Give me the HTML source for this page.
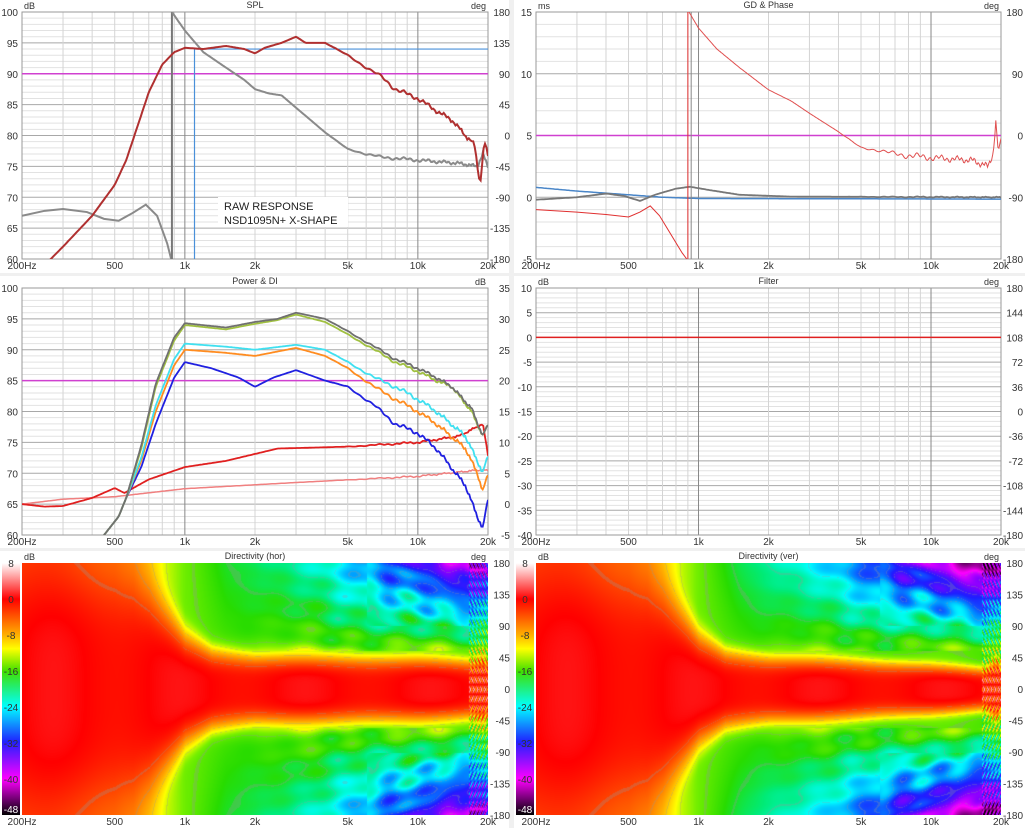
<!DOCTYPE html>
<html><head><meta charset="utf-8"><style>
body{margin:0;background:#f0f0f0;width:1025px;height:828px;overflow:hidden;position:relative;font-family:"Liberation Sans",sans-serif}
svg{position:absolute;left:0;top:0}
canvas{position:absolute;z-index:5}
</style></head><body>
<svg id="s" width="1025" height="828" xmlns="http://www.w3.org/2000/svg"></svg>
<canvas id="c1" width="466" height="252" style="left:22px;top:563px"></canvas>
<canvas id="c2" width="465" height="252" style="left:536px;top:563px"></canvas>
<script>
const S=document.getElementById('s');let h='';
const L={x:22,w:466},R={x:536,w:465};
const rows=[{y:12,h:247},{y:288,h:247},{y:563,h:252}];
function fx(p,f){return p.x+p.w*Math.log10(f/200)/2;}
h+='<rect x="0" y="0" width="509" height="273" fill="#fff"/><rect x="514" y="0" width="511" height="273" fill="#fff"/>';
h+='<rect x="0" y="276" width="509" height="272" fill="#fff"/><rect x="514" y="276" width="511" height="272" fill="#fff"/>';
h+='<rect x="0" y="551" width="509" height="277" fill="#fff"/><rect x="514" y="551" width="511" height="277" fill="#fff"/>';
function grid(p,r,ymin,ymax,minor,major,llab,rlab,lu,ru,title){
 const Y=v=>r.y+r.h*(ymax-v)/(ymax-ymin);
 for(let v=ymin;v<=ymax+1e-9;v+=minor){const mj=Math.abs((v-ymin)/major-Math.round((v-ymin)/major))<1e-6;
  h+=`<line x1="${p.x}" x2="${p.x+p.w}" y1="${Y(v)}" y2="${Y(v)}" stroke="${mj?'#a8a8a8':'#e2e2e2'}" stroke-width="1"/>`;}
 for(const f of [300,400,500,600,700,800,900,1000,2000,3000,4000,5000,6000,7000,8000,9000,10000]){
  const mj=(f==1000||f==10000);const x=fx(p,f);
  h+=`<line x1="${x}" x2="${x}" y1="${r.y}" y2="${r.y+r.h}" stroke="${mj?'#888':'#d4d4d4'}" stroke-width="1"/>`;}
 h+=`<rect x="${p.x}" y="${r.y}" width="${p.w}" height="${r.h}" fill="none" stroke="#999"/>`;
 txtLabels(p,r,llab,rlab,lu,ru,title);
 return Y;
}
function txtLabels(p,r,llab,rlab,lu,ru,title){
 llab.forEach((t,i)=>{const y=r.y+r.h*i/(llab.length-1);h+=`<text x="${p.x-4}" y="${y+4}" font-size="10" text-anchor="end" fill="#333">${t}</text>`;});
 rlab.forEach((t,i)=>{const y=r.y+r.h*i/(rlab.length-1);h+=`<text x="${p.x+p.w+22}" y="${y+4}" font-size="10" text-anchor="end" fill="#333">${t}</text>`;});
 [[200,'200Hz'],[500,'500'],[1000,'1k'],[2000,'2k'],[5000,'5k'],[10000,'10k'],[20000,'20k']].forEach(([f,t])=>{
  h+=`<text x="${fx(p,f)}" y="${r.y+r.h+10}" font-size="10" text-anchor="middle" fill="#333">${t}</text>`;});
 h+=`<text x="${p.x+2}" y="${r.y-3}" font-size="9" fill="#333">${lu}</text>`;
 h+=`<text x="${p.x+p.w-2}" y="${r.y-3}" font-size="9" text-anchor="end" fill="#333">${ru}</text>`;
 h+=`<text x="${p.x+p.w/2}" y="${r.y-4}" font-size="9" text-anchor="middle" fill="#333">${title}</text>`;
}
function interp(pts,f){const lf=Math.log(f);for(let i=0;i<pts.length-1;i++){const a=Math.log(pts[i][0]),b=Math.log(pts[i+1][0]);if(lf>=a&&lf<=b){const t=(lf-a)/(b-a);return pts[i][1]+(pts[i+1][1]-pts[i][1])*t;}}return pts[lf<Math.log(pts[0][0])?0:pts.length-1][1];}
function curve(p,r,Y,pts,col,w,clip,wg){
 wg=wg||0;let d='';const f0=pts[0][0],f1=pts[pts.length-1][0];
 for(let i=0;i<=300;i++){const f=f0*Math.pow(f1/f0,i/300);let v=interp(pts,f);
  const wig=(f>4000?wg*(Math.sin(f/97)*0.5+Math.sin(f/331)*0.5)*Math.min(1,(f-4000)/4000):0);
  d+=(i?'L':'M')+fx(p,f).toFixed(1)+','+Y(v+wig).toFixed(1);}
 h+=`<path d="${d}" fill="none" stroke="${col}" stroke-width="${w}" clip-path="url(#${clip})"/>`;
}
function poly(p,Y,pts,col,w,clip){h+=`<path d="${pts.map((q,i)=>(i?'L':'M')+fx(p,q[0])+','+Y(q[1])).join('')}" fill="none" stroke="${col}" stroke-width="${w}" clip-path="url(#${clip})"/>`;}
h+='<defs>';[[L,0,'a'],[R,0,'b'],[L,1,'c'],[R,1,'d']].forEach(([p,i,n])=>{h+=`<clipPath id="${n}"><rect x="${p.x}" y="${rows[i].y}" width="${p.w}" height="${rows[i].h}"/></clipPath>`;});h+='</defs>';
// SPL
let Y=grid(L,rows[0],60,100,1,5,['100','95','90','85','80','75','70','65','60'],['180','135','90','45','0','-45','-90','-135','-180'],'dB','deg','SPL');
h+=`<line x1="22" x2="488" y1="${Y(90)}" y2="${Y(90)}" stroke="#d040d0" stroke-width="1.5"/>`;
h+=`<polyline points="${fx(L,1100)},259 ${fx(L,1100)},${Y(94)} 488,${Y(94)}" fill="none" stroke="#4a90d9" stroke-width="1.2"/>`;
poly(L,Y,[[200,67],[250,67.8],[300,68.1],[380,67.6],[450,66.5],[520,66.2],[600,67.5],[680,68.8],[760,67],[840,62.5],[880,59.5]],'#8a8a8a',2,'a');
h+=`<line x1="${fx(L,880)}" x2="${fx(L,880)}" y1="12" y2="259" stroke="#777" stroke-width="2"/>`;
curve(L,rows[0],Y,[[880,100],[1000,97],[1200,93.5],[1500,91],[1800,89],[2000,87.5],[2300,86.8],[2600,86.5],[3000,84.5],[4000,80.5],[5000,77.8],[6000,77],[7000,76.5],[10000,76],[15000,75.5],[18000,75],[19000,77],[20000,75]],'#8a8a8a',2,'a',0.3);
curve(L,rows[0],Y,[[250,59],[300,62],[400,67],[500,72],[560,76],[620,81],[700,87],[800,91.5],[900,93.5],[1000,94.2],[1200,94],[1500,94.5],[1800,94],[2000,93.3],[2200,94.2],[2600,95],[3000,96],[3300,95],[4000,95],[5000,93],[6000,91],[7000,89.5],[8000,87.5],[10000,86],[12000,84],[14000,82.5],[16000,80],[17500,78.5],[18500,72],[19300,79],[20000,77]],'#b03030',2,'a',0.4);
h+=`<rect x="218" y="197" width="130" height="30" fill="#fff"/><text x="224" y="210" font-size="11" fill="#222">RAW RESPONSE</text><text x="224" y="224" font-size="11" fill="#222">NSD1095N+ X-SHAPE</text>`;
// GD
Y=grid(R,rows[0],-5,15,1,5,['15','10','5','0','-5'],['180','90','0','-90','-180'],'ms','deg','GD &amp; Phase');
h+=`<line x1="536" x2="1001" y1="${Y(5)}" y2="${Y(5)}" stroke="#d040d0" stroke-width="1.5"/>`;
curve(R,rows[0],Y,[[200,0.8],[300,0.5],[500,0.2],[700,0],[1000,-0.1],[20000,-0.15]],'#4a86c8',1.5,'b');
curve(R,rows[0],Y,[[200,-0.2],[300,0],[400,0.3],[480,0.1],[560,-0.3],[650,0.2],[800,0.7],[920,0.85],[1100,0.6],[1500,0.2],[2500,0.05],[20000,0]],'#777',1.8,'b',0.05);
poly(R,Y,[[200,-1],[300,-1.2],[400,-1.4],[500,-1.6],[560,-1.2],[620,-0.7],[680,-1.5],[760,-3],[850,-4.5],[890,-5]],'#e03030',1,'b');
h+=`<line x1="${fx(R,900)}" x2="${fx(R,900)}" y1="12" y2="259" stroke="#e03030" stroke-width="1"/><line x1="${fx(R,930)}" x2="${fx(R,930)}" y1="12" y2="259" stroke="#888" stroke-width="1"/>`;
curve(R,rows[0],Y,[[910,15],[1000,13.7],[1200,12],[1500,10.5],[2000,8.7],[2500,7.8],[3000,6.8],[4000,5.3],[5000,4],[6000,3.8],[7000,3.5],[10000,3.2],[15000,3],[17500,2.5],[18500,3.5],[19000,6],[19500,3.5],[20000,5]],'#e05050',1,'b',0.3);
// Power & DI
Y=grid(L,rows[1],60,100,1,5,['100','95','90','85','80','75','70','65','60'],['35','30','25','20','15','10','5','0','-5'],'','dB','Power &amp; DI');
h+=`<line x1="22" x2="488" y1="${Y(85)}" y2="${Y(85)}" stroke="#d040d0" stroke-width="1.5"/>`;
const base=[[380,57],[450,60],[520,63],[560,66]];
function mk(arr){return base.concat(arr);}
curve(L,rows[1],Y,[[200,65],[300,65.8],[500,66.2],[1000,67.5],[3000,68.5],[10000,69.5],[18000,70.5],[20000,70.5]],'#f08080',1.5,'c',0.15);
curve(L,rows[1],Y,[[200,65],[250,64.6],[300,64.7],[400,66],[500,67.6],[550,66.8],[700,69],[1000,71],[1500,72],[2500,74],[5000,74.3],[10000,75],[15000,76],[19000,78],[20000,73]],'#e02020',1.8,'c',0.2);
curve(L,rows[1],Y,mk([[650,71],[750,78],[900,85.5],[1000,88],[1300,87],[1700,85.5],[2000,84],[2400,85.5],[3000,86.7],[4000,85],[5000,84],[6500,81],[8000,78],[10000,76.5],[12000,74],[16000,68],[18000,63],[19000,61],[20000,66]]),'#2020e0',1.8,'c',0.4);
curve(L,rows[1],Y,mk([[650,72],[750,80],[900,87.5],[1000,90],[1500,89.5],[2000,89],[3000,90.3],[4000,89],[5000,87],[6500,84],[8000,82],[10000,80],[12000,78],[16000,74],[18000,70],[19000,67],[20000,70]]),'#ff8c20',1.8,'c',0.4);
curve(L,rows[1],Y,mk([[650,72.5],[750,81],[900,88.5],[1000,91],[1500,90.5],[2000,90],[3000,90.8],[4000,90],[5000,88],[6500,85.5],[8000,84],[10000,82],[12000,80],[16000,76],[18000,72],[19000,70],[20000,73]]),'#40e0f0',1.8,'c',0.4);
curve(L,rows[1],Y,mk([[650,74],[750,84],[900,91.5],[1000,94],[1500,93.3],[2000,94.2],[2500,94.8],[3000,95.7],[4000,94.5],[5000,92.5],[6500,90],[8000,88],[10000,86.5],[12000,85],[14000,84],[17000,80],[19000,76],[20000,78]]),'#a0c040',1.8,'c',0.3);
curve(L,rows[1],Y,mk([[650,74.5],[750,84.5],[900,92],[1000,94.3],[1500,93.6],[2000,94.5],[2500,95],[3000,96],[4000,95],[5000,93],[6500,90.5],[8000,88.5],[10000,87],[12000,85.5],[14000,84],[17000,80.5],[19000,76],[20000,78]]),'#707070',1.8,'c',0.3);
// Filter
Y=grid(R,rows[1],-40,10,1,5,['10','5','0','-5','-10','-15','-20','-25','-30','-35','-40'],['180','144','108','72','36','0','-36','-72','-108','-144','-180'],'dB','deg','Filter');
h+=`<line x1="536" x2="1001" y1="${Y(0)}" y2="${Y(0)}" stroke="#e02020" stroke-width="1.5"/>`;
const ang=['180','135','90','45','0','-45','-90','-135','-180'],cb=['8','0','-8','-16','-24','-32','-40','-48'];
[L,R].forEach((p,i)=>{txtLabels(p,rows[2],[],ang,'dB','deg',i?'Directivity (ver)':'Directivity (hor)');
 h+=`<defs><linearGradient id="g${i}" x1="0" y1="0" x2="0" y2="1"><stop offset="0" stop-color="#fff"/><stop offset="0.143" stop-color="#f00"/><stop offset="0.286" stop-color="#ffb000"/><stop offset="0.34" stop-color="#ff0"/><stop offset="0.43" stop-color="#40e000"/><stop offset="0.57" stop-color="#00ffff"/><stop offset="0.71" stop-color="#2020ff"/><stop offset="0.857" stop-color="#ff00ff"/><stop offset="1" stop-color="#000"/></linearGradient></defs>`;
 h+=`<rect x="${p.x-20}" y="563" width="18" height="252" fill="url(#g${i})"/>`;
 cb.forEach((t,k)=>{const y=563+252*k/7;h+=`<text x="${p.x-11}" y="${Math.min(y+4,813)}" font-size="10" text-anchor="middle" fill="${k==7?'#fff':'#333'}">${t}</text>`;});
});
S.innerHTML=h;
const stops=[[8,[255,255,255]],[0,[255,0,0]],[-4,[255,90,0]],[-8,[255,175,0]],[-11,[255,255,0]],[-14,[120,240,0]],[-17,[40,220,0]],[-20,[0,235,120]],[-24,[0,255,255]],[-28,[0,140,255]],[-32,[30,30,255]],[-36,[130,0,255]],[-40,[255,0,255]],[-44,[120,0,120]],[-48,[0,0,0]]];
function col(v){v=Math.max(-48,Math.min(8,v));for(let i=0;i<stops.length-1;i++){if(v<=stops[i][0]&&v>=stops[i+1][0]){const t=(stops[i][0]-v)/(stops[i][0]-stops[i+1][0]);return stops[i][1].map((c,k)=>c+(stops[i+1][1][k]-c)*t);}}return [0,0,0];}
function draw(id,vert){const c=document.getElementById(id),ctx=c.getContext('2d'),W=c.width,H=c.height,im=ctx.createImageData(W,H);
 const c1p=[[200,3],[500,4.5],[600,6],[700,9],[850,13],[1000,15],[1500,15.5],[20000,15.5]];
 const b1p=vert?[[200,160],[600,150],[700,140],[850,110],[1000,80],[1300,56],[2000,48],[5000,42],[10000,36],[17000,30],[19000,45],[20000,35]]:[[200,160],[600,150],[700,140],[850,110],[1000,80],[1300,58],[2000,50],[5000,48],[10000,46],[17000,42],[19000,50],[20000,40]];
 const c2p=vert?[[200,0],[1000,0],[1500,3],[2000,5],[5000,14],[10000,22],[17000,30],[20000,22]]:[[200,0],[1000,0],[1500,2],[2000,3],[5000,10],[10000,18],[17000,25],[20000,18]];
 for(let x=0;x<W;x++){const f=200*Math.pow(100,x/W);const c1=interp(c1p,f),b1=interp(b1p,f),c2=interp(c2p,f);
  for(let y=0;y<H;y++){let a=Math.abs(180-360*y/H);
   let v=-c1*(1-Math.exp(-Math.pow(a/b1,4)))-c2*Math.max(0,(a-60)/120);
   if(f>1500&&a>55){v+=2.5*Math.sin(x*0.09+a*0.08)*Math.sin(a*0.11-x*0.05)*Math.min(1,(f-1500)/3000);}
   if(f>6000&&a>90){v+=2.5*Math.sin(x*0.15+a*0.12)*Math.cos(a*0.09-x*0.04);}
   if(f>16500){v+=7*Math.sin(x*1.7+a*0.5)*Math.cos(a*0.23);}
   v+=0.6*Math.sin(x*0.05);
   let cc=col(v);
   const fr=((-v)/3)%1;if(v<-2&&(fr<0.04||fr>0.96)&&v>-40)cc=cc.map(q=>q*0.7+45);
   const i=(y*W+x)*4;im.data[i]=cc[0];im.data[i+1]=cc[1];im.data[i+2]=cc[2];im.data[i+3]=255;}}
 ctx.putImageData(im,0,0);}
draw('c1',false);draw('c2',true);
</script>
</body></html>
